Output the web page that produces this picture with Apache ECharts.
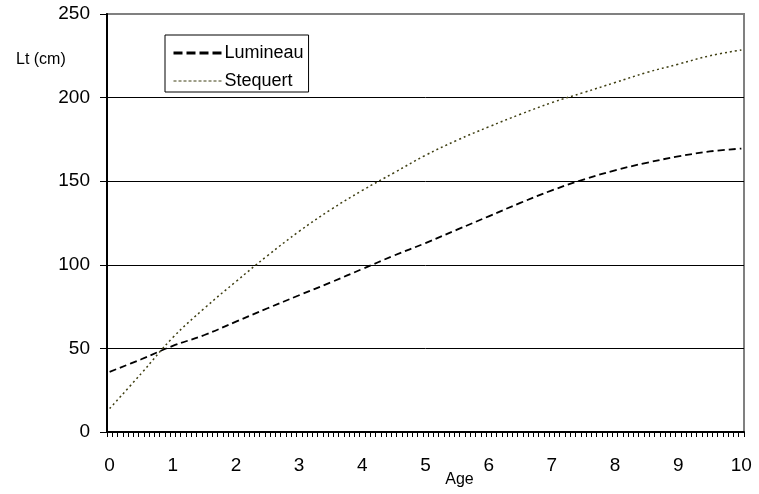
<!DOCTYPE html>
<html>
<head>
<meta charset="utf-8">
<script src="https://cdn.jsdelivr.net/npm/echarts@6/dist/echarts.min.js"></script>
<style>
html,body{margin:0;padding:0;background:#fff;}
#chart{width:759px;height:494px;}
</style>
</head>
<body>
<div id="chart"></div>
<script>
var ages = [0, 0.5, 1, 1.5, 2, 2.5, 3, 3.5, 4, 4.5, 5, 5.5, 6, 6.5, 7, 7.5, 8, 8.5, 9, 9.5, 10];
// Lt (cm)
var lumineau = [36, 43.5, 51.5, 58, 66, 74, 81.8, 89.5, 97.5, 105.5, 113, 121, 129, 137, 144.5, 151, 156.5, 161, 164.8, 167.8, 169.5];
var stequert = [14, 35, 56.5, 74, 90, 105.5, 120, 133, 144.5, 155, 165.5, 174.5, 182.5, 190, 197, 203, 209, 215, 220, 225, 228.5];
var ageTickLabels = ['0','1','2','3','4','5','6','7','8','9','10'];
var seriesNames = ['Lumineau', 'Stequert'];

var MONTHS_PER_YEAR = 12;
var months = [];
for (var m = 0; m <= 10 * MONTHS_PER_YEAR; m++) { months.push(String(m)); }

function toPairs(vals) {
  return vals.map(function (v, i) { return [ages[i] * MONTHS_PER_YEAR, v]; });
}

var FONT = 'Liberation Sans, Arial, Helvetica, sans-serif';
var OLIVE = '#3f3f12';
var chart = echarts.init(document.getElementById('chart'), null, {renderer: 'canvas'});
chart.setOption({
  backgroundColor: '#ffffff',
  animation: false,
  title: {
    text: 'Lt (cm)', left: 11, top: 47,
    textStyle: {fontFamily: FONT, fontSize: 16, fontWeight: 'normal', color: '#000'}
  },
  legend: {
    orient: 'vertical', left: 165, top: 35,
    backgroundColor: '#fff', borderColor: '#000', borderWidth: 1,
    padding: [9, 5, 2, 7], itemGap: 10, itemWidth: 48, itemHeight: 14,
    textStyle: {fontFamily: FONT, fontSize: 18, color: '#000', padding: [0, 0, 0, -2]},
    data: [
      {name: seriesNames[0], itemStyle: {opacity: 0}, lineStyle: {width: 3, type: [9, 4], color: '#000'}},
      {name: seriesNames[1], itemStyle: {opacity: 0}, lineStyle: {width: 1, type: [3, 2], color: OLIVE}}
    ]
  },
  grid: {
    left: 107, right: 15, top: 14, bottom: 62,
    outerBoundsMode: 'none',
    show: true, borderColor: '#808080', borderWidth: 2
  },
  xAxis: {
    type: 'category', data: months, boundaryGap: true,
    name: 'Age', nameLocation: 'middle', nameGap: 40, nameMoveOverlap: false,
    nameTextStyle: {fontFamily: FONT, fontSize: 16, color: '#000', padding: [0, 0, 0, 68]},
    axisLine: {lineStyle: {color: '#000', width: 2}},
    axisTick: {show: true, interval: 0, alignWithLabel: false, length: 5, lineStyle: {color: '#000', width: 1}},
    axisLabel: {
      interval: function (idx) { return idx % MONTHS_PER_YEAR === 0; },
      formatter: function (val, idx) { return ageTickLabels[idx / MONTHS_PER_YEAR]; },
      fontFamily: FONT, fontSize: 19, color: '#000', margin: 24
    },
    splitLine: {show: false}
  },
  yAxis: {
    type: 'value', min: 0, max: 250, interval: 50,
    axisLine: {show: true, lineStyle: {color: '#000', width: 2}},
    axisTick: {show: true, length: 7, lineStyle: {color: '#000', width: 1}},
    axisLabel: {fontFamily: FONT, fontSize: 19, color: '#000', margin: 17},
    splitLine: {show: true, showMinLine: false, showMaxLine: false, lineStyle: {color: '#000', width: 1}}
  },
  series: [
    {
      name: seriesNames[0], type: 'line', data: toPairs(lumineau), smooth: 0.4,
      symbol: 'none', lineStyle: {color: '#000', width: 1.8, type: [7, 4]},
      itemStyle: {color: '#000'}
    },
    {
      name: seriesNames[1], type: 'line', data: toPairs(stequert), smooth: 0.4,
      symbol: 'none', lineStyle: {color: OLIVE, width: 1.5, type: [2, 3]},
      itemStyle: {color: OLIVE}
    }
  ]
});
</script>
</body>
</html>
